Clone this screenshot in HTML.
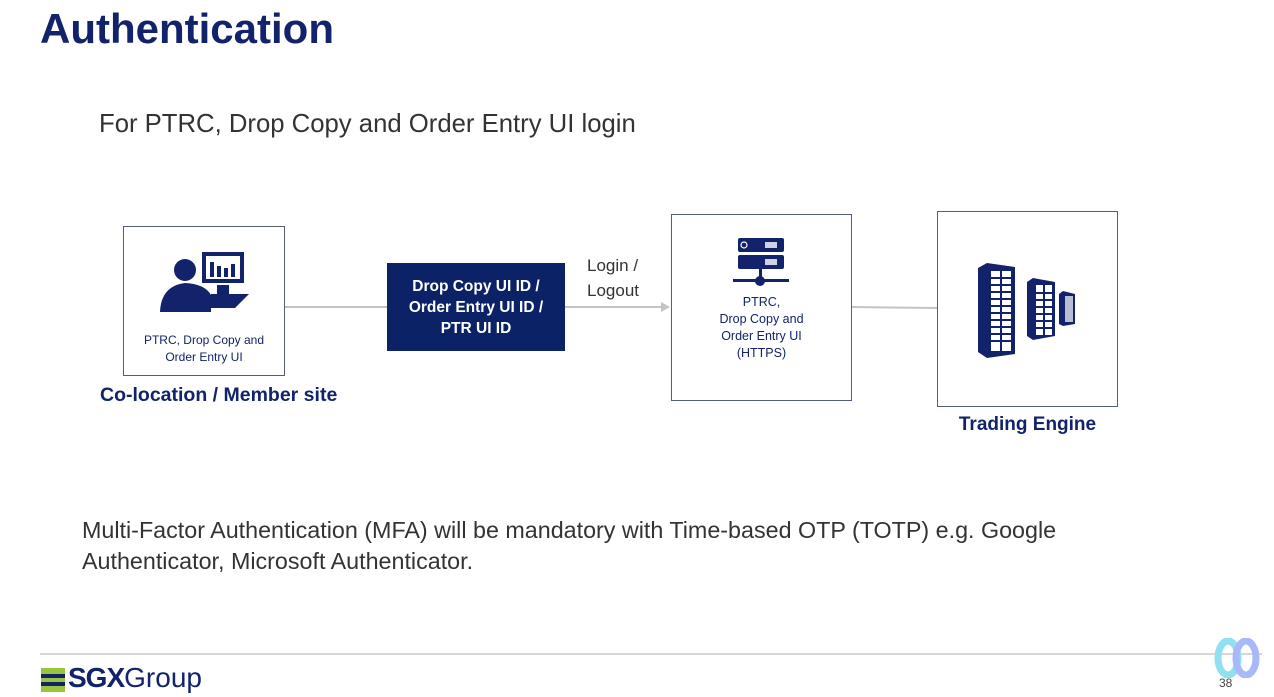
<!DOCTYPE html>
<html><head><meta charset="utf-8"><style>
body{margin:0;width:1274px;height:697px;background:#fff;position:relative;overflow:hidden;font-family:"Liberation Sans",sans-serif;}
.a{position:absolute;}
.box{position:absolute;border:1px solid #555d7a;box-sizing:border-box;background:#fff;}
.navy{color:#12236b;}
</style></head><body>
<div class="a navy" style="left:40px;top:5px;font-size:42px;font-weight:bold;">Authentication</div>
<div class="a" style="left:99px;top:110px;font-size:25.7px;color:#333;">For PTRC, Drop Copy and Order Entry UI login</div>

<svg class="a" style="left:0;top:0" width="1274" height="697">
<line x1="284" y1="307" x2="387" y2="307" stroke="#c4c4c4" stroke-width="2"/>
<line x1="565" y1="307" x2="664" y2="307" stroke="#c4c4c4" stroke-width="2"/>
<polygon points="670,307 661,302 661,312" fill="#c4c4c4"/>
<line x1="851" y1="307" x2="937" y2="308" stroke="#c4c4c4" stroke-width="2"/>
<line x1="40" y1="654" x2="1262" y2="654" stroke="#c8c8c8" stroke-width="1.5"/>
</svg>

<div class="box" style="left:123px;top:226px;width:162px;height:150px;"></div>
<svg class="a" style="left:155px;top:250px" width="100" height="70">
<circle cx="30" cy="20" r="11" fill="#12236b"/>
<path d="M5 62 Q6 36 30 33 Q50 34 56 45 L56 62 Z" fill="#12236b"/>
<rect x="47" y="2" width="42" height="31" fill="#12236b"/>
<rect x="51" y="6" width="34" height="23" fill="#fff"/>
<rect x="55" y="12" width="4" height="15" fill="#12236b"/><rect x="62" y="16" width="4" height="11" fill="#12236b"/><rect x="69" y="18" width="4" height="9" fill="#12236b"/><rect x="76" y="14" width="4" height="13" fill="#12236b"/>
<polygon points="56,44 94,44 80,58 56,58" fill="#12236b"/>
<rect x="62" y="35" width="12" height="9" fill="#12236b"/>
</svg>
<div class="a navy" style="left:123px;top:332px;width:162px;text-align:center;font-size:12px;line-height:17px;">PTRC, Drop Copy and<br>Order Entry UI</div>
<div class="a navy" style="left:100px;top:384px;font-size:19.5px;font-weight:bold;">Co-location / Member site</div>

<div class="a" style="left:387px;top:263px;width:178px;height:88px;background:#0b2266;color:#fff;font-weight:bold;font-size:15.5px;line-height:21px;text-align:center;padding-top:13px;box-sizing:border-box;">Drop Copy UI ID /<br>Order Entry UI ID /<br>PTR UI ID</div>
<div class="a" style="left:587px;top:253px;font-size:17px;line-height:25px;color:#333;">Login /<br>Logout</div>

<div class="box" style="left:671px;top:214px;width:181px;height:187px;"></div>
<svg class="a" style="left:730px;top:236px" width="60" height="55">
<rect x="8" y="2" width="46" height="14" rx="2" fill="#12236b"/>
<rect x="8" y="19" width="46" height="14" rx="2" fill="#12236b"/>
<circle cx="14" cy="9" r="3" fill="none" stroke="#fff" stroke-width="1.2"/>
<rect x="35" y="6" width="12" height="6" fill="#fff" opacity=".8"/>
<rect x="35" y="23" width="12" height="6" fill="#fff" opacity=".8"/>
<rect x="29" y="33" width="3" height="10" fill="#12236b"/>
<rect x="3" y="43" width="56" height="3" fill="#12236b"/>
<circle cx="30" cy="45" r="5" fill="#12236b"/>
</svg>
<div class="a navy" style="left:671px;top:294px;width:181px;text-align:center;font-size:12.5px;line-height:17px;">PTRC,<br>Drop Copy and<br>Order Entry UI<br>(HTTPS)</div>

<div class="box" style="left:937px;top:211px;width:181px;height:196px;"></div>
<svg class="a" style="left:975px;top:262px" width="105" height="97">
<path d="M3 6 L12 1 L40 5 L40 92 L12 96 L3 90 Z" fill="#12236b"/>
<g fill="#fff"><rect x="16" y="9" width="20" height="80" /></g>
<g fill="#12236b"><rect x="25" y="9" width="2" height="80"/>
<rect x="16" y="15" width="20" height="2"/><rect x="16" y="22" width="20" height="2"/><rect x="16" y="29" width="20" height="2"/><rect x="16" y="36" width="20" height="2"/><rect x="16" y="43" width="20" height="2"/><rect x="16" y="50" width="20" height="2"/><rect x="16" y="57" width="20" height="2"/><rect x="16" y="64" width="20" height="2"/><rect x="16" y="71" width="20" height="2"/><rect x="16" y="78" width="20" height="2"/></g>
<path d="M52 20 L58 16 L80 20 L80 74 L58 78 L52 74 Z" fill="#12236b"/>
<rect x="61" y="23" width="16" height="50" fill="#fff"/>
<g fill="#12236b"><rect x="68" y="23" width="2" height="50"/><rect x="61" y="30" width="16" height="2"/><rect x="61" y="37" width="16" height="2"/><rect x="61" y="44" width="16" height="2"/><rect x="61" y="51" width="16" height="2"/><rect x="61" y="58" width="16" height="2"/><rect x="61" y="65" width="16" height="2"/></g>
<path d="M84 32 L88 29 L100 32 L100 62 L88 64 L84 62 Z" fill="#12236b"/>
<rect x="90" y="34" width="8" height="26" fill="#fff" opacity=".7"/>
</svg>
<div class="a navy" style="left:937px;top:414px;width:181px;text-align:center;font-size:19px;font-weight:bold;">Trading Engine</div>

<div class="a" style="left:82px;top:515px;font-size:23.3px;line-height:31px;color:#333;width:1150px;">Multi-Factor Authentication (MFA) will be mandatory with Time-based OTP (TOTP) e.g. Google<br>Authenticator, Microsoft Authenticator.</div>

<div class="a" style="left:41px;top:668px;width:24px;height:24px;background:#9ac43c;"></div>
<div class="a" style="left:41px;top:674px;width:24px;height:4px;background:#12236b;"></div>
<div class="a" style="left:41px;top:682px;width:24px;height:4px;background:#12236b;"></div>
<div class="a navy" style="left:68px;top:662px;font-size:28px;line-height:32px;"><b style="letter-spacing:-1px">SGX</b>Group</div>
<svg class="a" style="left:1212px;top:638px" width="52" height="40">
<ellipse cx="16" cy="20" rx="10" ry="17" fill="none" stroke="#8fe0f0" stroke-width="7"/>
<ellipse cx="34" cy="20" rx="10" ry="17" fill="none" stroke="#a8b8f8" stroke-width="7"/>
</svg>
<div class="a" style="left:1219px;top:676px;font-size:12px;color:#444;">38</div>
</body></html>
